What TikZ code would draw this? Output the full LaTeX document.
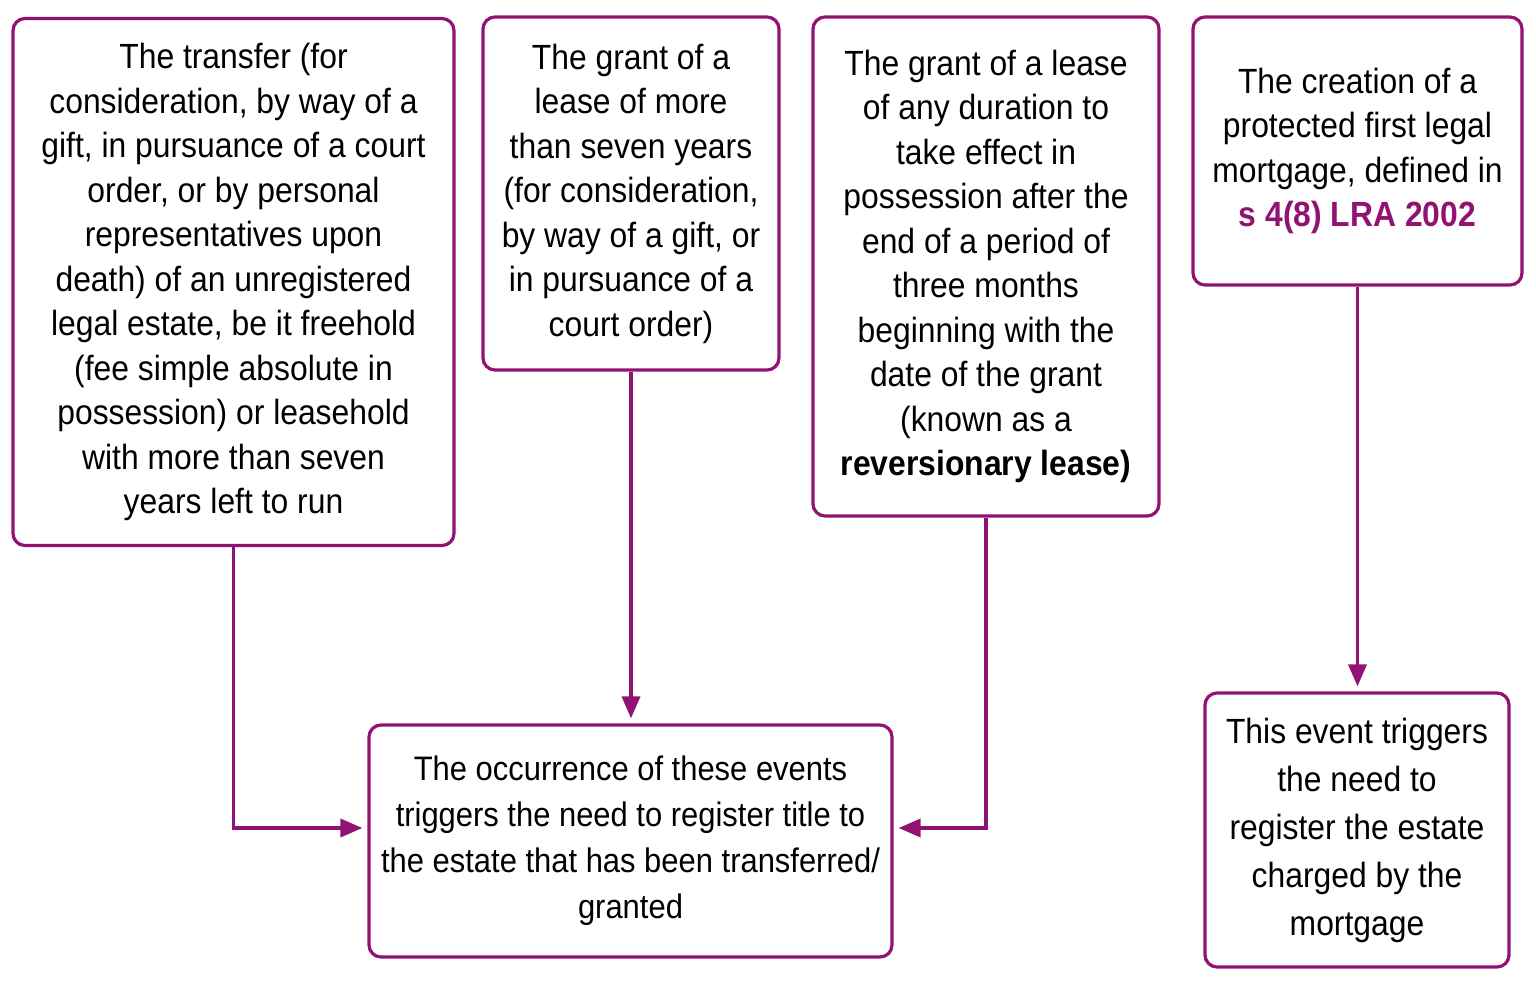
\documentclass[tikz,border=0pt]{standalone}
\usepackage{fontspec}
\setmainfont{Liberation Sans}[FakeStretch=0.91]
\usetikzlibrary{arrows.meta}
\definecolor{plum}{RGB}{145,18,115}
\tikzset{
  eventbox/.style={draw=plum, line width=3.2pt, rounded corners=12pt, align=center,
    inner sep=0pt, font=\fontsize{35}{44.5}\selectfont},
  link/.style={draw=plum, line width=3.6pt, -{Triangle[length=22pt,width=18pt]}, shorten >=5pt},
}
\begin{document}
\begin{tikzpicture}[x=1pt, y=-1pt]
      \useasboundingbox (0,0) rectangle (1536,988);

      \node[eventbox, minimum width=441pt, minimum height=527pt] (transfer) at (233.5,282)
        {The transfer (for\\consideration, by way of a\\gift, in pursuance of a court\\order, or by personal\\representatives upon\\death) of an unregistered\\legal estate, be it freehold\\(fee simple absolute in\\possession) or leasehold\\with more than seven\\years left to run};
      \node[eventbox, minimum width=296pt, minimum height=353pt] (grant) at (631,193.5)
        {The grant of a\\lease of more\\than seven years\\(for consideration,\\by way of a gift, or\\in pursuance of a\\court order)};
      \node[eventbox, minimum width=346pt, minimum height=499pt] (reversion) at (986,266.5)
        {The grant of a lease\\of any duration to\\take effect in\\possession after the\\end of a period of\\three months\\beginning with the\\date of the grant\\(known as a\\\textbf{reversionary lease)}};
      \node[eventbox, minimum width=329pt, minimum height=268pt] (mortgage) at (1357.5,151)
        {The creation of a\\protected first legal\\mortgage, defined in\\\textcolor{plum}{\textbf{s 4(8) LRA 2002}}};

      \node[eventbox, minimum width=523pt, minimum height=232pt, font=\fontsize{34}{46}\selectfont] (outcome) at (630.5,841)
        {The occurrence of these events\\triggers the need to register title to\\the estate that has been transferred/\\granted};
      \node[eventbox, minimum width=304pt, minimum height=274pt, font=\fontsize{35}{48}\selectfont] (single) at (1357,830)
        {This event triggers\\the need to\\register the estate\\charged by the\\mortgage};

      \draw[link] (transfer.south) |- ([yshift=13pt]outcome.west);
      \draw[link] (grant.south) -- (grant.south |- outcome.north);
      \draw[link] (reversion.south) |- ([yshift=13pt]outcome.east);
      \draw[link] (mortgage.south) -- (mortgage.south |- single.north);

    \end{tikzpicture}
\end{document}
